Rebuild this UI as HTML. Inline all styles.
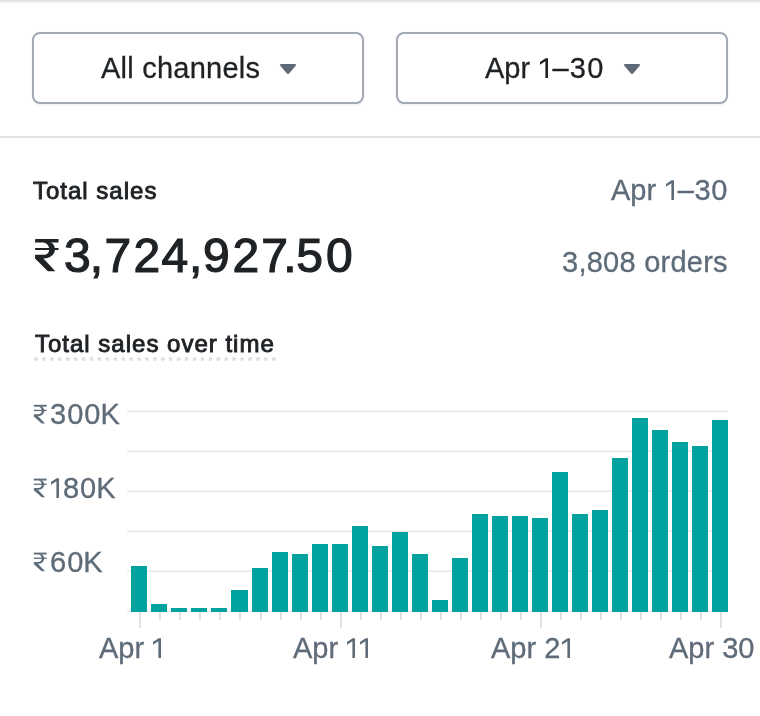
<!DOCTYPE html>
<html><head><meta charset="utf-8">
<style>
html,body{margin:0;padding:0;background:#fff;}
body{width:760px;height:716px;position:relative;overflow:hidden;font-family:"Liberation Sans",sans-serif;}
.t{position:absolute;white-space:nowrap;line-height:1;will-change:transform;-webkit-text-stroke:0.3px currentColor;}
.one{display:inline-block;vertical-align:baseline;overflow:visible;}
.shadow{position:absolute;left:0;top:0;width:760px;height:4px;background:linear-gradient(#e3e3e3 0,#e3e3e3 1px,#eaeaea 1px,#eaeaea 2px,#f3f3f3 2px,#f3f3f3 3px,#fbfbfb 3px,#fbfbfb 4px);}
.btn{position:absolute;top:32px;width:332px;height:72px;box-sizing:border-box;border:2px solid #a2a9b3;border-radius:8px;background:#fff;box-shadow:0 1px 3px rgba(0,0,0,0.07);}
.div{position:absolute;left:0;top:136px;width:760px;height:2px;background:#dfe3e8;}
svg.chart{position:absolute;left:0;top:0;}
</style></head><body>
<div class="shadow"></div>
<div class="btn" style="left:32px"></div>
<div class="btn" style="left:396px"></div>
<div class="div"></div>
<div class="t" style="left:101px;top:54px;font-size:29px;letter-spacing:0.24px;color:#1f2225;">All channels</div>
<div class="t" style="left:485px;top:54px;font-size:29px;color:#1f2225;">Apr <svg class="one" style="margin-right:1.3px" width="12.90" height="20.00" viewBox="0 -20 12.9 20"><path d="M10 0 L10 -19.8 L7.6 -19.8 L2.0 -15.9 L2.0 -13.2 L7.4 -16.8 L7.4 0 Z" fill="#1f2225"/></svg><span style="letter-spacing:1.3px">–</span><span style="letter-spacing:1.3px">3</span>0</div>
<div class="t" style="left:33px;top:179.3px;font-size:24px;letter-spacing:1.0px;color:#1f2225;-webkit-text-stroke:0.9px #1f2225;">Total sales</div>
<div class="t" style="right:33px;top:175.5px;font-size:29px;color:#5e6b78;">Apr <svg class="one" style="margin-right:0.6px" width="12.90" height="20.00" viewBox="0 -20 12.9 20"><path d="M10 0 L10 -19.8 L7.6 -19.8 L2.0 -15.9 L2.0 -13.2 L7.4 -16.8 L7.4 0 Z" fill="#5e6b78"/></svg><span style="letter-spacing:0.6px">–</span><span style="letter-spacing:0.6px">3</span>0</div>
<div class="t" style="left:64.3px;top:232px;font-size:48px;color:#1f2225;-webkit-text-stroke:1.2px #1f2225;"><span style="letter-spacing:-0.95px">3</span><span style="letter-spacing:1.35px">,</span><span style="letter-spacing:2.45px">7</span><span style="letter-spacing:1.25px">2</span><span style="letter-spacing:0.65px">4</span><span style="letter-spacing:0.65px">,</span><span style="letter-spacing:2.85px">9</span><span style="letter-spacing:2.10px">2</span><span style="letter-spacing:-4.80px">7</span><span style="letter-spacing:-0.25px">.</span><span style="letter-spacing:3.15px">5</span><span style="letter-spacing:0.95px">0</span></div>
<div class="t" style="right:31.7px;top:248.2px;font-size:29px;letter-spacing:0.25px;color:#5e6b78;">3,808 orders</div>
<div class="t" style="left:35px;top:332.3px;font-size:24px;letter-spacing:1.0px;color:#1f2225;-webkit-text-stroke:0.9px #1f2225;">Total sales over time</div>
<div class="t" style="left:50px;top:399.5px;font-size:29px;color:#5e6b78;"><span style="letter-spacing:1.0px">3</span><span style="letter-spacing:1.0px">0</span>0K</div>
<div class="t" style="left:49px;top:473.5px;font-size:29px;color:#5e6b78;"><svg class="one" style="margin-right:1.0px" width="12.90" height="20.00" viewBox="0 -20 12.9 20"><path d="M10 0 L10 -19.8 L7.6 -19.8 L2.0 -15.9 L2.0 -13.2 L7.4 -16.8 L7.4 0 Z" fill="#5e6b78"/></svg><span style="letter-spacing:1.0px">8</span>0K</div>
<div class="t" style="left:50px;top:547.5px;font-size:29px;color:#5e6b78;"><span style="letter-spacing:1.0px">6</span>0K</div>
<div class="t" style="left:99px;top:634.2px;font-size:29px;color:#5e6b78;word-spacing:-1px;">Apr <svg class="one" width="12.90" height="20.00" viewBox="0 -20 12.9 20"><path d="M10 0 L10 -19.8 L7.6 -19.8 L2.0 -15.9 L2.0 -13.2 L7.4 -16.8 L7.4 0 Z" fill="#5e6b78"/></svg></div>
<div class="t" style="left:293px;top:634.2px;font-size:29px;color:#5e6b78;word-spacing:-1px;">Apr <svg class="one" width="12.90" height="20.00" viewBox="0 -20 12.9 20"><path d="M10 0 L10 -19.8 L7.6 -19.8 L2.0 -15.9 L2.0 -13.2 L7.4 -16.8 L7.4 0 Z" fill="#5e6b78"/></svg><svg class="one" width="12.90" height="20.00" viewBox="0 -20 12.9 20"><path d="M10 0 L10 -19.8 L7.6 -19.8 L2.0 -15.9 L2.0 -13.2 L7.4 -16.8 L7.4 0 Z" fill="#5e6b78"/></svg></div>
<div class="t" style="left:491px;top:634.2px;font-size:29px;color:#5e6b78;">Apr 2<svg class="one" width="12.90" height="20.00" viewBox="0 -20 12.9 20"><path d="M10 0 L10 -19.8 L7.6 -19.8 L2.0 -15.9 L2.0 -13.2 L7.4 -16.8 L7.4 0 Z" fill="#5e6b78"/></svg></div>
<div class="t" style="left:669px;top:634.2px;font-size:29px;color:#5e6b78;">Apr 30</div>
<svg class="chart" width="760" height="716" viewBox="0 0 760 716">
<rect x="127" y="410" width="601" height="1" fill="#f4f5f6"/>
<rect x="127" y="411" width="601" height="1" fill="#e6e8eb"/>
<rect x="127" y="450" width="601" height="1" fill="#f4f5f6"/>
<rect x="127" y="451" width="601" height="1" fill="#e6e8eb"/>
<rect x="127" y="490" width="601" height="1" fill="#f4f5f6"/>
<rect x="127" y="491" width="601" height="1" fill="#e6e8eb"/>
<rect x="127" y="530" width="601" height="1" fill="#f4f5f6"/>
<rect x="127" y="531" width="601" height="1" fill="#e6e8eb"/>
<rect x="127" y="570" width="601" height="1" fill="#f4f5f6"/>
<rect x="127" y="571" width="601" height="1" fill="#e6e8eb"/>
<rect x="127" y="610" width="601" height="1" fill="#f4f5f6"/>
<rect x="127" y="611" width="601" height="1" fill="#e6e8eb"/>
<rect x="139" y="612" width="2" height="16" fill="#dfe2e6"/>
<rect x="159" y="612" width="2" height="8" fill="#dfe2e6"/>
<rect x="179" y="612" width="2" height="8" fill="#dfe2e6"/>
<rect x="199" y="612" width="2" height="8" fill="#dfe2e6"/>
<rect x="219" y="612" width="2" height="8" fill="#dfe2e6"/>
<rect x="239" y="612" width="2" height="8" fill="#dfe2e6"/>
<rect x="260" y="612" width="2" height="8" fill="#dfe2e6"/>
<rect x="280" y="612" width="2" height="8" fill="#dfe2e6"/>
<rect x="300" y="612" width="2" height="8" fill="#dfe2e6"/>
<rect x="320" y="612" width="2" height="8" fill="#dfe2e6"/>
<rect x="340" y="612" width="2" height="16" fill="#dfe2e6"/>
<rect x="360" y="612" width="2" height="8" fill="#dfe2e6"/>
<rect x="380" y="612" width="2" height="8" fill="#dfe2e6"/>
<rect x="400" y="612" width="2" height="8" fill="#dfe2e6"/>
<rect x="420" y="612" width="2" height="8" fill="#dfe2e6"/>
<rect x="440" y="612" width="2" height="8" fill="#dfe2e6"/>
<rect x="460" y="612" width="2" height="8" fill="#dfe2e6"/>
<rect x="480" y="612" width="2" height="8" fill="#dfe2e6"/>
<rect x="500" y="612" width="2" height="8" fill="#dfe2e6"/>
<rect x="520" y="612" width="2" height="8" fill="#dfe2e6"/>
<rect x="540" y="612" width="2" height="16" fill="#dfe2e6"/>
<rect x="560" y="612" width="2" height="8" fill="#dfe2e6"/>
<rect x="580" y="612" width="2" height="8" fill="#dfe2e6"/>
<rect x="600" y="612" width="2" height="8" fill="#dfe2e6"/>
<rect x="620" y="612" width="2" height="8" fill="#dfe2e6"/>
<rect x="640" y="612" width="2" height="8" fill="#dfe2e6"/>
<rect x="660" y="612" width="2" height="8" fill="#dfe2e6"/>
<rect x="680" y="612" width="2" height="8" fill="#dfe2e6"/>
<rect x="700" y="612" width="2" height="8" fill="#dfe2e6"/>
<rect x="720" y="612" width="2" height="16" fill="#dfe2e6"/>
<rect x="131" y="566" width="16" height="46" fill="#02a29f"/>
<rect x="151" y="604" width="16" height="8" fill="#02a29f"/>
<rect x="171" y="608" width="16" height="4" fill="#02a29f"/>
<rect x="191" y="608" width="16" height="4" fill="#02a29f"/>
<rect x="211" y="608" width="16" height="4" fill="#02a29f"/>
<rect x="231" y="590" width="17" height="22" fill="#02a29f"/>
<rect x="252" y="568" width="16" height="44" fill="#02a29f"/>
<rect x="272" y="552" width="16" height="60" fill="#02a29f"/>
<rect x="292" y="554" width="16" height="58" fill="#02a29f"/>
<rect x="312" y="544" width="16" height="68" fill="#02a29f"/>
<rect x="332" y="544" width="16" height="68" fill="#02a29f"/>
<rect x="352" y="526" width="16" height="86" fill="#02a29f"/>
<rect x="372" y="546" width="16" height="66" fill="#02a29f"/>
<rect x="392" y="532" width="16" height="80" fill="#02a29f"/>
<rect x="412" y="554" width="16" height="58" fill="#02a29f"/>
<rect x="432" y="600" width="16" height="12" fill="#02a29f"/>
<rect x="452" y="558" width="16" height="54" fill="#02a29f"/>
<rect x="472" y="514" width="16" height="98" fill="#02a29f"/>
<rect x="492" y="516" width="16" height="96" fill="#02a29f"/>
<rect x="512" y="516" width="16" height="96" fill="#02a29f"/>
<rect x="532" y="518" width="16" height="94" fill="#02a29f"/>
<rect x="552" y="472" width="16" height="140" fill="#02a29f"/>
<rect x="572" y="514" width="16" height="98" fill="#02a29f"/>
<rect x="592" y="510" width="16" height="102" fill="#02a29f"/>
<rect x="612" y="458" width="16" height="154" fill="#02a29f"/>
<rect x="632" y="418" width="16" height="194" fill="#02a29f"/>
<rect x="652" y="430" width="16" height="182" fill="#02a29f"/>
<rect x="672" y="442" width="16" height="170" fill="#02a29f"/>
<rect x="692" y="446" width="16" height="166" fill="#02a29f"/>
<rect x="712" y="420" width="16" height="192" fill="#02a29f"/>
<g transform="translate(35.1 239.0)" fill="#1f2225">
<rect x="0" y="0" width="23.4" height="3.6" rx="0.4"/>
<rect x="0" y="9.0" width="23.4" height="2.0"/>
<path d="M8.2 3.0 L15.4 3.0 C17.8 4.4 19.9 6.8 19.9 10.2 C19.9 15.5 15 19.4 9.1 19.4 L0 19.4 L0 15.7 L9.1 15.7 C12.3 15.7 14.1 13.2 14.1 10.2 C14.1 6.8 11.8 4.2 8.2 3.0 Z"/>
<path d="M0 18.5 L7.4 18.5 L20.2 32.2 L12.7 32.2 L0 19.6 Z"/>
</g>
<circle cx="35.90" cy="359.1" r="2" fill="#dde1e6"/>
<circle cx="43.83" cy="359.1" r="2" fill="#dde1e6"/>
<circle cx="51.76" cy="359.1" r="2" fill="#dde1e6"/>
<circle cx="59.69" cy="359.1" r="2" fill="#dde1e6"/>
<circle cx="67.62" cy="359.1" r="2" fill="#dde1e6"/>
<circle cx="75.55" cy="359.1" r="2" fill="#dde1e6"/>
<circle cx="83.48" cy="359.1" r="2" fill="#dde1e6"/>
<circle cx="91.41" cy="359.1" r="2" fill="#dde1e6"/>
<circle cx="99.34" cy="359.1" r="2" fill="#dde1e6"/>
<circle cx="107.27" cy="359.1" r="2" fill="#dde1e6"/>
<circle cx="115.20" cy="359.1" r="2" fill="#dde1e6"/>
<circle cx="123.13" cy="359.1" r="2" fill="#dde1e6"/>
<circle cx="131.06" cy="359.1" r="2" fill="#dde1e6"/>
<circle cx="138.99" cy="359.1" r="2" fill="#dde1e6"/>
<circle cx="146.92" cy="359.1" r="2" fill="#dde1e6"/>
<circle cx="154.85" cy="359.1" r="2" fill="#dde1e6"/>
<circle cx="162.78" cy="359.1" r="2" fill="#dde1e6"/>
<circle cx="170.71" cy="359.1" r="2" fill="#dde1e6"/>
<circle cx="178.64" cy="359.1" r="2" fill="#dde1e6"/>
<circle cx="186.57" cy="359.1" r="2" fill="#dde1e6"/>
<circle cx="194.50" cy="359.1" r="2" fill="#dde1e6"/>
<circle cx="202.43" cy="359.1" r="2" fill="#dde1e6"/>
<circle cx="210.36" cy="359.1" r="2" fill="#dde1e6"/>
<circle cx="218.29" cy="359.1" r="2" fill="#dde1e6"/>
<circle cx="226.22" cy="359.1" r="2" fill="#dde1e6"/>
<circle cx="234.15" cy="359.1" r="2" fill="#dde1e6"/>
<circle cx="242.08" cy="359.1" r="2" fill="#dde1e6"/>
<circle cx="250.01" cy="359.1" r="2" fill="#dde1e6"/>
<circle cx="257.94" cy="359.1" r="2" fill="#dde1e6"/>
<circle cx="265.87" cy="359.1" r="2" fill="#dde1e6"/>
<circle cx="273.80" cy="359.1" r="2" fill="#dde1e6"/>
<path d="M281 65 L295 65 L288 73 Z" fill="#5f6875" stroke="#5f6875" stroke-width="2" stroke-linejoin="round"/>
<path d="M625 65 L639 65 L632 73 Z" fill="#5f6875" stroke="#5f6875" stroke-width="2" stroke-linejoin="round"/>
<g transform="translate(33.9 404.8)" fill="#5e6b78">
<rect x="0" y="0" width="12.7" height="1.9"/>
<rect x="0" y="5.0" width="12.7" height="1.3"/>
<path d="M4.8 1.6 L7.8 1.6 C9.2 2.4 10.3 3.8 10.3 5.9 C10.3 8.9 7.8 11.2 4 11.2 L0 11.2 L0 9.5 L4 9.5 C6.6 9.5 7.9 8 7.9 5.9 C7.9 3.9 6.7 2.3 4.8 1.6 Z"/>
<path d="M0 10.6 L3.5 10.6 L11.1 18.7 L7.8 18.7 L0 11.6 Z"/>
</g>
<g transform="translate(33.9 478.6)" fill="#5e6b78">
<rect x="0" y="0" width="12.7" height="1.9"/>
<rect x="0" y="5.0" width="12.7" height="1.3"/>
<path d="M4.8 1.6 L7.8 1.6 C9.2 2.4 10.3 3.8 10.3 5.9 C10.3 8.9 7.8 11.2 4 11.2 L0 11.2 L0 9.5 L4 9.5 C6.6 9.5 7.9 8 7.9 5.9 C7.9 3.9 6.7 2.3 4.8 1.6 Z"/>
<path d="M0 10.6 L3.5 10.6 L11.1 18.7 L7.8 18.7 L0 11.6 Z"/>
</g>
<g transform="translate(33.9 552.6)" fill="#5e6b78">
<rect x="0" y="0" width="12.7" height="1.9"/>
<rect x="0" y="5.0" width="12.7" height="1.3"/>
<path d="M4.8 1.6 L7.8 1.6 C9.2 2.4 10.3 3.8 10.3 5.9 C10.3 8.9 7.8 11.2 4 11.2 L0 11.2 L0 9.5 L4 9.5 C6.6 9.5 7.9 8 7.9 5.9 C7.9 3.9 6.7 2.3 4.8 1.6 Z"/>
<path d="M0 10.6 L3.5 10.6 L11.1 18.7 L7.8 18.7 L0 11.6 Z"/>
</g>
</svg>
</body></html>
